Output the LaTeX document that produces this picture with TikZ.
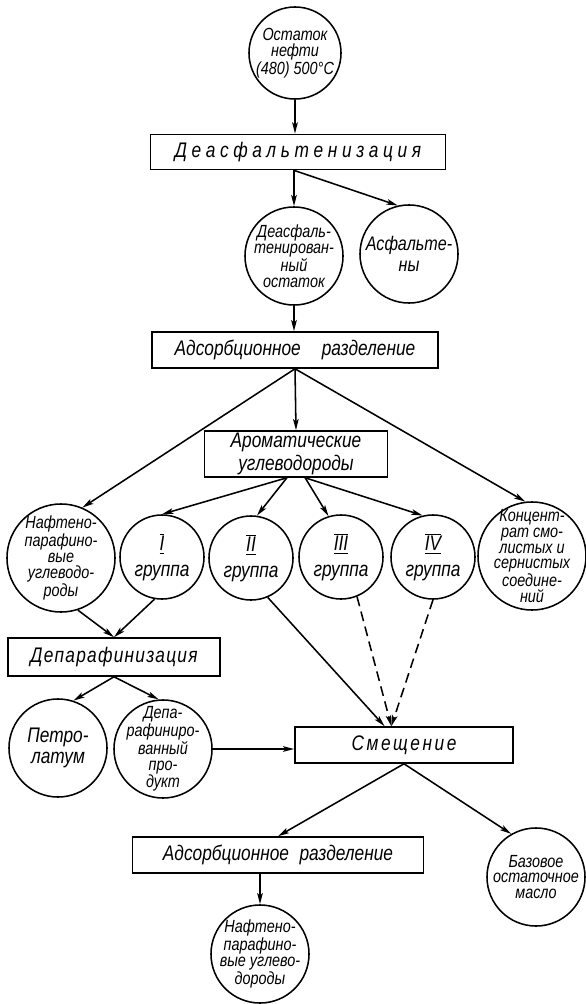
\documentclass[tikz,border=0pt]{standalone}
\usepackage{fontspec}
\setmainfont{Liberation Sans}[FakeStretch=0.82]
\usetikzlibrary{arrows.meta}
\newcommand\grp[1]{$\overline{\underline{\mbox{\itshape #1}}}$\\группа}

\begin{document}
\begin{tikzpicture}[x=.025cm,y=-.025cm,line width=1.1pt,font=\itshape,
  blob/.style={circle,draw,inner sep=0pt,minimum size=#1},
  blob/.default=2.45cm,
  txt/.style={align=center,inner sep=0pt,font=\itshape\fontsize{12.5}{11.3}\selectfont},
  grptxt/.style={txt,font=\itshape\fontsize{15}{18}\selectfont},
  stage/.style={draw,inner sep=0pt,font=\itshape\fontsize{15}{16}\selectfont},
  flow/.style={-{Stealth[length=8pt,width=4pt,inset=1.8pt]}},
  maybe/.style={flow,dash pattern=on 7pt off 4pt}]
\useasboundingbox (0,0) rectangle (585,1004);
\node[blob=2.3cm,label={[txt]center:Остаток\\нефти\\(480) 500°C}] (res) at (295,53) {};
\node[stage,minimum width=7.38cm,minimum height=.88cm] (deas) at (298,152) {\addfontfeatures{LetterSpace=22}Деасфальтенизация};
\node[blob,label={[txt]center:Деасфаль-\\тенирован-\\ный\\остаток}] (dres) at (294,256) {};
\node[blob,label={[txt,font=\itshape\fontsize{14}{15}\selectfont]center:Асфальте-\\ны}] (asph) at (409,254) {};
\node[stage,minimum width=7.15cm,minimum height=.9cm] (ads) at (295,350) {Адсорбционное\quad разделение};
\node[stage,minimum width=4.58cm,minimum height=1.15cm,align=center] (arom) at (296,454) {Ароматические\\углеводороды};
\node[blob=2.7cm,label={[txt]center:Нафтено-\\парафино-\\вые\\углеводо-\\роды}] (naph) at (61,558) {};
\node[blob=2.1cm,label={[grptxt]center:\grp{I}}] (g1) at (162,557) {};
\node[blob=2.1cm,label={[grptxt]center:\grp{II}}] (g2) at (251,558) {};
\node[blob=2.1cm,label={[grptxt]center:\grp{III}}] (g3) at (341,557) {};
\node[blob=2.1cm,label={[grptxt]center:\grp{IV}}] (g4) at (433,557) {};
\node[blob=2.7cm,label={[txt]center:Концент-\\рат смо-\\листых и\\сернистых\\соедине-\\ний}] (conc) at (532,556) {};
\node[stage,minimum width=5.3cm,minimum height=.95cm] (depar) at (114,657) {\addfontfeatures{LetterSpace=6}Депарафинизация};
\node[blob,label={[txt,font=\itshape\fontsize{15}{15}\selectfont]center:Петро-\\латум}] (petro) at (58,748) {};
\node[blob,label={[txt]center:Депа-\\рафиниро-\\ванный\\про-\\дукт}] (dprod) at (163,749) {};
\node[stage,minimum width=5.45cm,minimum height=.9cm] (mix) at (404,745) {\addfontfeatures{LetterSpace=12}Смещение};
\node[stage,minimum width=7.28cm,minimum height=.9cm] (ads2) at (278,855) {Адсорбционное\enspace разделение};
\node[blob,label={[txt]center:Базовое\\остаточное\\масло}] (base) at (536,877) {};
\node[blob,label={[txt]center:Нафтено-\\парафино-\\вые углево-\\дороды}] (naph2) at (260,954) {};
\draw[flow] (res.south) -- (res.south |- deas.north);
\draw[flow] (dres.north |- deas.south) -- (dres.north);
\draw[flow] (dres.north |- deas.south) -- (asph.103);
\draw[flow] (dres.south) -- (dres.south |- ads.north);
\draw[flow] (ads.south) -- (arom.north);
\draw[flow] (ads.south) -- (naph.67);
\draw[flow] (ads.south) -- (conc.97);
\draw[flow] (arom.-111) -- (g1.north);
\draw[flow] (arom.-111) -- (g2.82);
\draw[flow] (arom.-69) -- (g3.107);
\draw[flow] (arom.-69) -- (g4.104);
\draw[flow] (naph.-72) -- (depar.north);
\draw[flow] (g1.-100) -- (depar.north);
\draw[flow] (depar.south) -- (petro.72);
\draw[flow] (depar.south) -- (dprod.95);
\draw[flow] (dprod.east) -- (dprod.east -| mix.west);
\draw[flow] (g2.-67) -- (mix.136);
\draw[maybe] (g3.-68) -- (mix.124);
\draw[maybe] (g4.south) -- (mix.124);
\draw[flow] (mix.south) -- (ads2.north);
\draw[flow] (mix.south) -- (base.120);
\draw[flow] (naph2.north |- ads2.south) -- (naph2.north);
\end{tikzpicture}
\end{document}
